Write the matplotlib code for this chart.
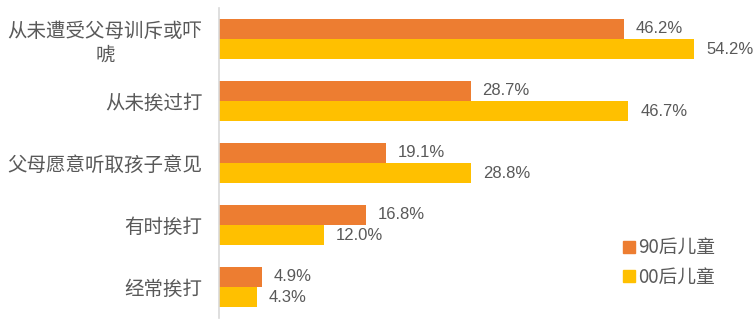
import numpy as np
import matplotlib.pyplot as plt
from matplotlib.lines import Line2D

plt.rcParams['font.family'] = ['Noto Sans CJK SC', 'DejaVu Sans']

categories = ['从未遭受父母训斥或吓\n唬', '从未挨过打', '父母愿意听取孩子意见', '有时挨打', '经常挨打']
gen90 = [46.2, 28.7, 19.1, 16.8, 4.9]
gen00 = [54.2, 46.7, 28.8, 12.0, 4.3]
series_names = ['90后儿童', '00后儿童']

c90 = '#ED7D31'
c00 = '#FFC000'
txt = '#595959'
num_font = ['Liberation Sans Narrow', 'DejaVu Sans Condensed', 'Liberation Sans']

fig = plt.figure(figsize=(7.56, 3.24), dpi=100)
ax = fig.add_axes([219 / 756, 6 / 324, 526 / 756, 310 / 324])

y = np.arange(len(categories))
h = 0.33
ax.barh(y - h / 2, gen90, height=h, color=c90)
ax.barh(y + h / 2, gen00, height=h, color=c00)

# 数据标签
for yi, v in zip(y, gen90):
    ax.annotate(f'{v:.1f}%', (v, yi - h / 2), xytext=(8.5, 0), textcoords='offset points',
                ha='left', va='center', fontsize=12, color=txt, family=num_font)
for yi, v in zip(y, gen00):
    ax.annotate(f'{v:.1f}%', (v, yi + h / 2), xytext=(8.5, 0), textcoords='offset points',
                ha='left', va='center', fontsize=12, color=txt, family=num_font)

ax.set_ylim(len(categories) - 0.5, -0.5)
ax.set_xlim(0, 60)
ax.set_yticks(y)
ax.set_yticklabels(categories, fontsize=14, color=txt, multialignment='center')
ax.tick_params(axis='y', length=0, pad=12)
ax.set_xticks([])
for s in ['top', 'right', 'bottom']:
    ax.spines[s].set_visible(False)
ax.spines['left'].set_color('#D9D9D9')
ax.spines['left'].set_linewidth(1.2)

handles = [Line2D([], [], marker='s', linestyle='none', markersize=8, color=c)
           for c in (c90, c00)]
leg = fig.legend(handles, series_names, loc='center left', bbox_to_anchor=(0.812, 0.19),
                 frameon=False, fontsize=13.5, handletextpad=0.1, labelspacing=0.45,
                 handlelength=0.8, borderaxespad=0)
for t in leg.get_texts():
    t.set_color(txt)

fig.savefig('out.png', dpi=100)
